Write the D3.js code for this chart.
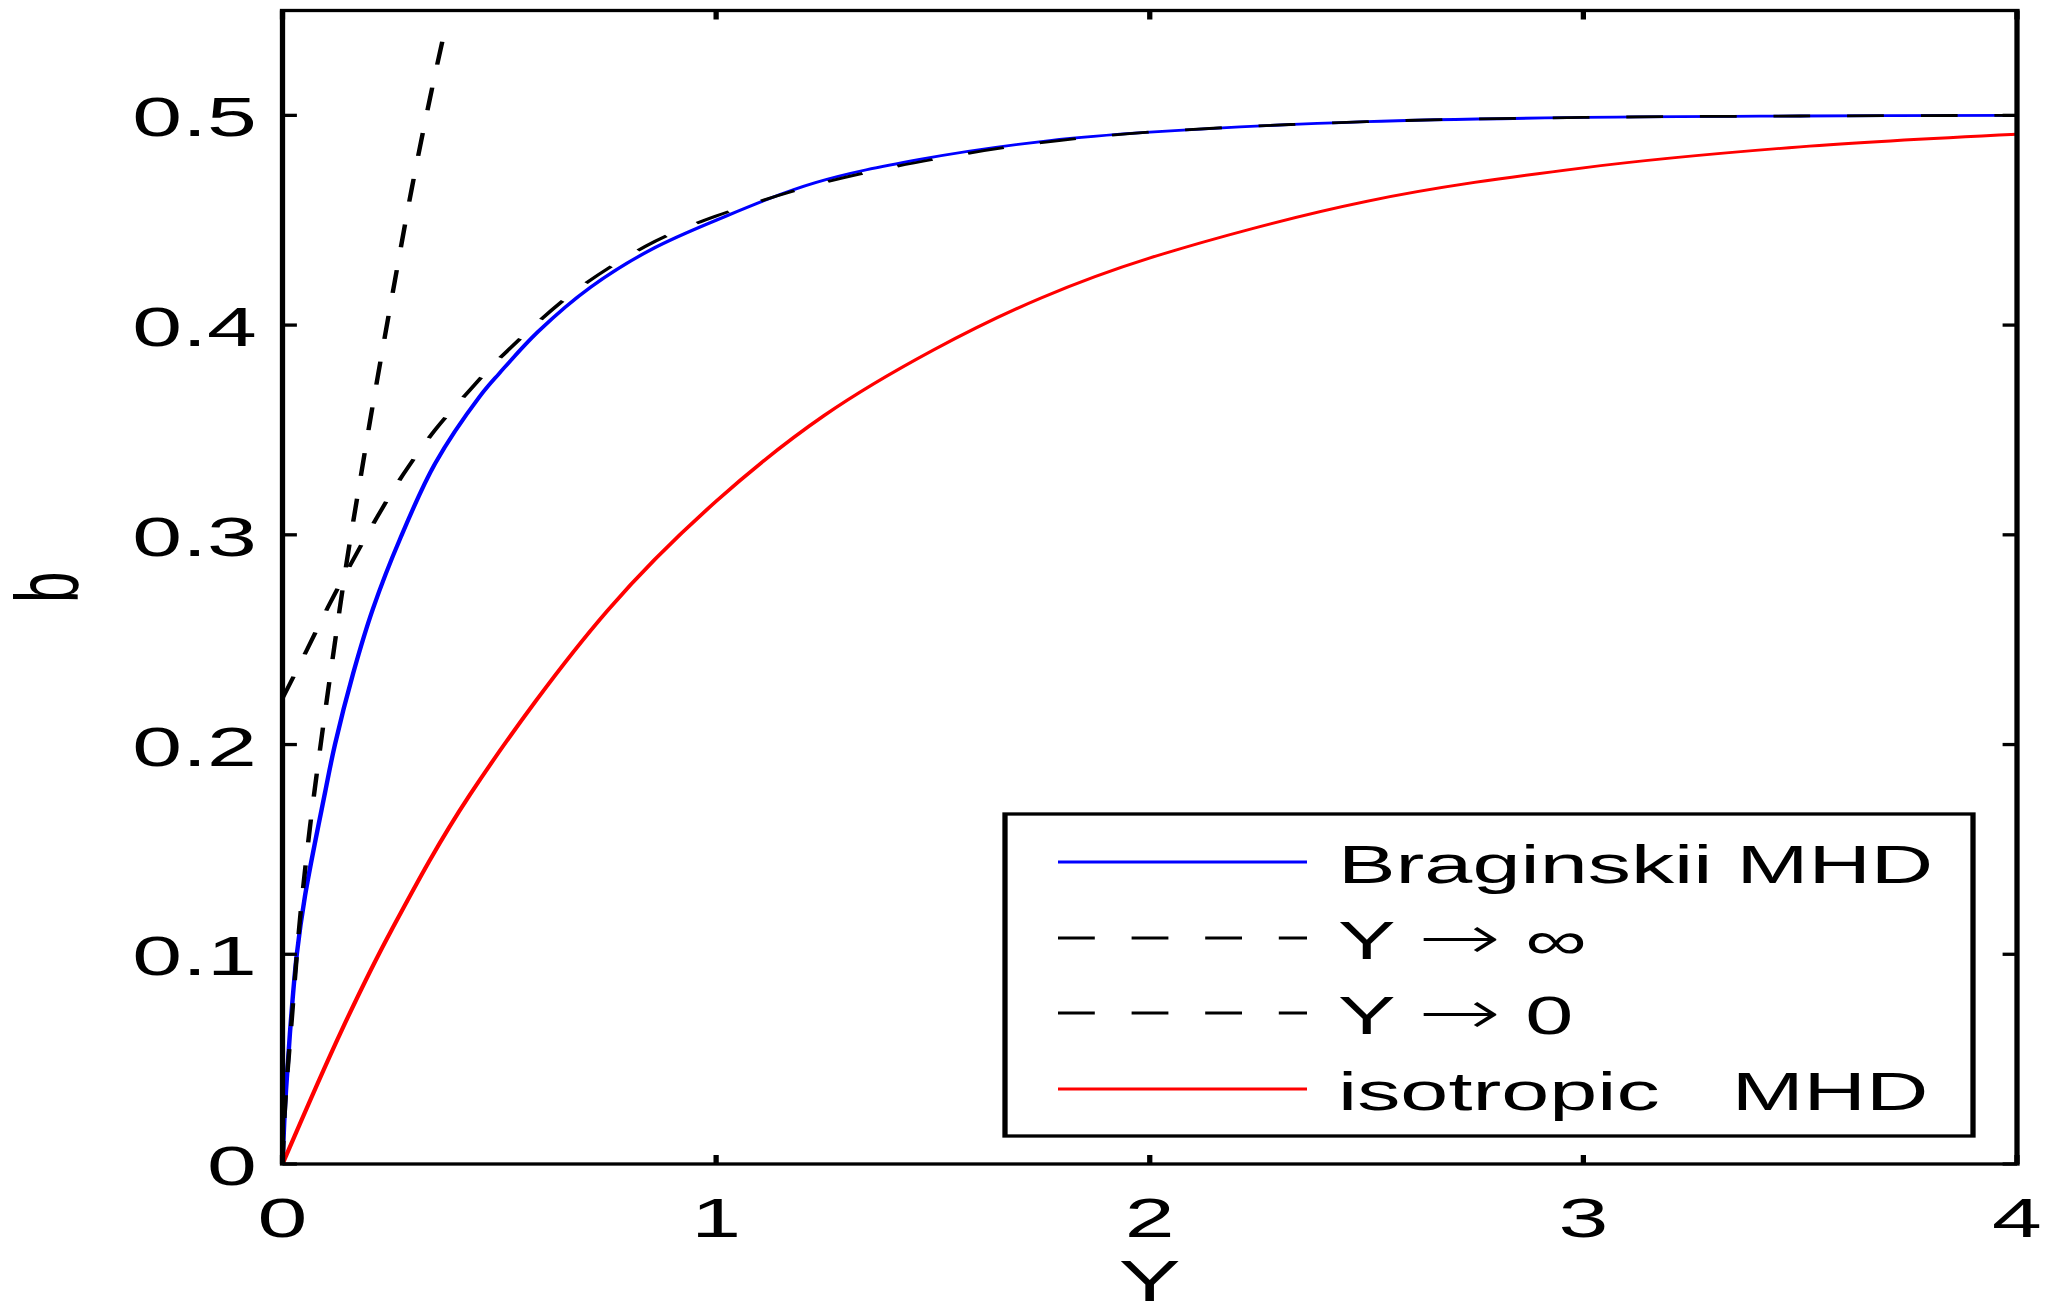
<!DOCTYPE html>
<html>
<head>
<meta charset="utf-8">
<script src="https://cdn.jsdelivr.net/npm/d3@7"></script>
<style>
  html, body { margin: 0; padding: 0; background: #fff; }
  svg { display: block; }
  text { font-family: "Liberation Sans", Arial, sans-serif; fill: #000; }
</style>
</head>
<body>
<svg id="chart"></svg>
<script>
// ─── Data ────────────────────────────────────────────────────────────────────

// Braginskii MHD (blue)
const bragY = [0, 0.004, 0.008, 0.017, 0.033, 0.052, 0.098, 0.121, 0.163, 0.209, 0.271, 0.352, 0.455, 0.5, 0.59, 0.71, 0.85, 1.0, 1.23, 1.47, 1.77, 2.0, 2.5, 3.0, 3.5, 4.0];
const bragB = [0, 0.02, 0.035, 0.062, 0.1, 0.128, 0.177, 0.2, 0.234, 0.265, 0.298, 0.334, 0.366, 0.377, 0.397, 0.418, 0.436, 0.45, 0.468, 0.479, 0.488, 0.492, 0.497, 0.499, 0.4997, 0.5];

// Y -> infinity asymptote (dashed)
const infY = [0, 0.056, 0.106, 0.16, 0.217, 0.279, 0.352, 0.432, 0.5, 0.68, 0.86, 1.0, 1.25, 1.5, 1.75, 2.0, 2.5, 3.0, 3.5, 4.0];
const infB = [0.222, 0.245, 0.266, 0.287, 0.308, 0.329, 0.350, 0.369, 0.384, 0.417, 0.440, 0.452, 0.468, 0.479, 0.487, 0.492, 0.497, 0.499, 0.4997, 0.5];

// Y -> 0 asymptote (dashed)
const zeroY = [0, 0.006, 0.021, 0.04, 0.063, 0.09, 0.117, 0.148, 0.179, 0.2, 0.221, 0.259, 0.298, 0.344, 0.377];
const zeroB = [0, 0.028, 0.068, 0.116, 0.160, 0.203, 0.243, 0.287, 0.326, 0.352, 0.377, 0.421, 0.465, 0.512, 0.543];

// isotropic MHD (red)
const isoY = [0, 0.137, 0.25, 0.432, 0.75, 1.0, 1.25, 1.5, 1.75, 2.0, 2.5, 3.0, 3.5, 4.0];
const isoB = [0, 0.064, 0.111, 0.176, 0.264, 0.316, 0.357, 0.388, 0.413, 0.432, 0.459, 0.475, 0.485, 0.491];

const xTickValues = [0, 1, 2, 3, 4];
const yTickValues = [0, 0.1, 0.2, 0.3, 0.4, 0.5];
const yTickLabels = ['0', '0.1', '0.2', '0.3', '0.4', '0.5'];

// legend labels, split so the TeX-style arrow can use a font with a full-size glyph
const legendLabels = [
  ['Braginskii MHD'],
  ['Y ', '\u2192', ' \u221E'],
  ['Y ', '\u2192', ' 0'],
  ['isotropic   MHD'],
];
const xLabel = 'Y';
const yLabel = 'b';

// ─── Layout ─────────────────────────────────────────────────────────────────
// The figure is stretched horizontally, so draw in a narrower viewBox
// and let the svg stretch it (lines and glyphs widen the same way).
const W = 2060, H = 1306, SX = 1.6;
const VW = W / SX;

const plot = { left: 282.5 / SX, right: 2017 / SX, top: 10.5, bottom: 1164 };
const tickLen = 9;
const axisW = 3.3;
const lineW = 2.8;
const dash = '23,23';

const svg = d3.select('#chart')
  .attr('width', W)
  .attr('height', H)
  .attr('viewBox', `0 0 ${VW} ${H}`)
  .attr('preserveAspectRatio', 'none');

const x = d3.scaleLinear().domain([0, 4]).range([plot.left, plot.right]);
const y = d3.scaleLinear().domain([0, 0.55]).range([plot.bottom, plot.top]);

const series = [
  { name: legendLabels[0], color: '#0000ff', dash: null, xs: bragY, ys: bragB },
  { name: legendLabels[1], color: '#000000', dash: dash, xs: infY,  ys: infB },
  { name: legendLabels[2], color: '#000000', dash: dash, xs: zeroY, ys: zeroB },
  { name: legendLabels[3], color: '#ff0000', dash: null, xs: isoY,  ys: isoB },
];

// ─── Curves ─────────────────────────────────────────────────────────────────
const line = d3.line()
  .x(d => x(d[0]))
  .y(d => y(d[1]))
  .curve(d3.curveCatmullRom.alpha(0.5));

svg.append('clipPath').attr('id', 'clip')
  .append('rect')
  .attr('x', plot.left).attr('y', plot.top)
  .attr('width', plot.right - plot.left)
  .attr('height', plot.bottom - plot.top);

const gLines = svg.append('g').attr('clip-path', 'url(#clip)');

gLines.selectAll('path')
  .data(series)
  .join('path')
  .attr('fill', 'none')
  .attr('stroke', s => s.color)
  .attr('stroke-width', lineW)
  .attr('stroke-dasharray', s => s.dash)
  .attr('d', s => line(s.xs.map((v, i) => [v, s.ys[i]])));

// ─── Axes box + inward ticks (all four sides) ───────────────────────────────
const gAxes = svg.append('g');

gAxes.selectAll('.tick-x')
  .data(xTickValues)
  .join('g')
  .attr('class', 'tick-x')
  .each(function (v) {
    const g = d3.select(this);
    g.append('line')
      .attr('x1', x(v)).attr('x2', x(v))
      .attr('y1', plot.bottom).attr('y2', plot.bottom - tickLen)
      .attr('stroke', '#000').attr('stroke-width', axisW);
    g.append('line')
      .attr('x1', x(v)).attr('x2', x(v))
      .attr('y1', plot.top).attr('y2', plot.top + tickLen)
      .attr('stroke', '#000').attr('stroke-width', axisW);
  });

gAxes.selectAll('.tick-y')
  .data(yTickValues)
  .join('g')
  .attr('class', 'tick-y')
  .each(function (v) {
    const g = d3.select(this);
    g.append('line')
      .attr('x1', plot.left).attr('x2', plot.left + tickLen)
      .attr('y1', y(v)).attr('y2', y(v))
      .attr('stroke', '#000').attr('stroke-width', axisW);
    g.append('line')
      .attr('x1', plot.right).attr('x2', plot.right - tickLen)
      .attr('y1', y(v)).attr('y2', y(v))
      .attr('stroke', '#000').attr('stroke-width', axisW);
  });

gAxes.append('rect')
  .attr('x', plot.left).attr('y', plot.top)
  .attr('width', plot.right - plot.left)
  .attr('height', plot.bottom - plot.top)
  .attr('fill', 'none')
  .attr('stroke', '#000')
  .attr('stroke-width', axisW);

// Tick labels
gAxes.selectAll('.xl')
  .data(xTickValues)
  .join('text')
  .attr('class', 'xl')
  .attr('x', d => x(d))
  .attr('y', plot.bottom + 73)
  .attr('text-anchor', 'middle')
  .attr('font-size', 56)
  .text(d => d3.format('d')(d));

gAxes.selectAll('.yl')
  .data(yTickValues)
  .join('text')
  .attr('class', 'yl')
  .attr('x', plot.left - 16)
  .attr('y', d => y(d) + 21)
  .attr('text-anchor', 'end')
  .attr('font-size', 56)
  .text((d, i) => yTickLabels[i]);

// Axis titles
svg.append('text')
  .attr('x', x(2))
  .attr('y', 1301)
  .attr('text-anchor', 'middle')
  .attr('font-size', 58)
  .text(xLabel);

svg.append('text')
  .attr('transform', `translate(${78 / SX},${(plot.top + plot.bottom) / 2}) rotate(-90)`)
  .attr('text-anchor', 'middle')
  .attr('font-size', 56)
  .text(yLabel);

// ─── Legend ─────────────────────────────────────────────────────────────────
const leg = { left: 1005 / SX, right: 1973 / SX, top: 814, bottom: 1136 };
const rowY = [862, 938, 1013, 1089];
const sample = { x1: 1058 / SX, x2: 1307 / SX };
const textX = 1338 / SX;

const gLeg = svg.append('g');
gLeg.append('rect')
  .attr('x', leg.left).attr('y', leg.top)
  .attr('width', leg.right - leg.left)
  .attr('height', leg.bottom - leg.top)
  .attr('fill', '#fff')
  .attr('stroke', '#000')
  .attr('stroke-width', axisW);

const items = gLeg.selectAll('.item')
  .data(series)
  .join('g')
  .attr('class', 'item');

items.append('line')
  .attr('x1', sample.x1).attr('x2', sample.x2)
  .attr('y1', (d, i) => rowY[i]).attr('y2', (d, i) => rowY[i])
  .attr('stroke', d => d.color)
  .attr('stroke-width', lineW)
  .attr('stroke-dasharray', d => d.dash);

items.append('text')
  .attr('x', textX)
  .attr('y', (d, i) => rowY[i] + 21)
  .attr('font-size', 54)
  .style('white-space', 'pre')
  .selectAll('tspan')
  .data(d => d.name)
  .join('tspan')
  .style('font-family', t => t === '\u2192' ? '"DejaVu Sans", sans-serif' : null)
  .attr('font-size', t => t === '\u2192' ? 62 : null)
  .attr('font-weight', t => t === '\u2192' ? 200 : null)
  .text(t => t);
</script>
</body>
</html>
